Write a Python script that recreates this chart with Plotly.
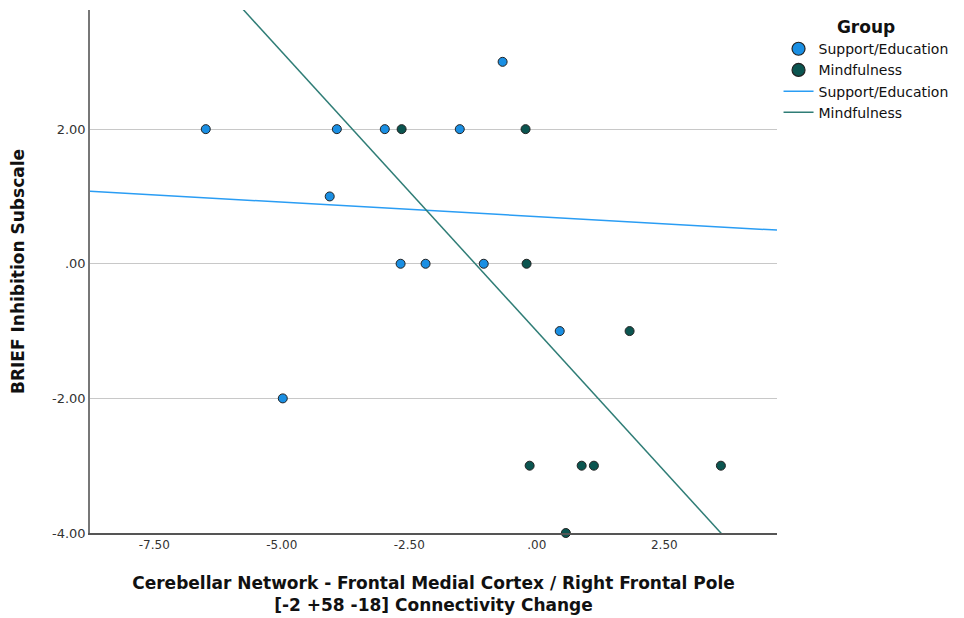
import numpy as np
import plotly.graph_objects as go

# Data
support_x = [-6.49, -3.92, -2.98, -1.51, -0.67, -4.06, -2.67, -2.18, -1.04, 0.45, -4.98]
support_y = [2, 2, 2, 2, 3, 1, 0, 0, 0, -1, -2]
mind_x = [-2.65, -0.22, -0.20, 1.82, -0.14, 0.88, 1.12, 3.61, 0.57]
mind_y = [2, 2, 0, -1, -3, -3, -3, -3, -4]

x_ticks = [-7.5, -5.0, -2.5, 0.0, 2.5]
x_tick_labels = ["-7.50", "-5.00", "-2.50", ".00", "2.50"]
y_ticks = [2, 0, -2, -4]
y_tick_labels = ["2.00", ".00", "-2.00", "-4.00"]

X_RANGE = [-8.76, 4.71]
Y_RANGE = [-4.0, 3.77]

BLUE = "#1A8FE3"
TEAL = "#0B5550"
BLUE_LINE = "#2A9DF4"
TEAL_LINE = "#2F7D76"


def fit_line(xs, ys):
    slope, intercept = np.polyfit(xs, ys, 1)
    lx = np.array(X_RANGE)
    return lx, slope * lx + intercept


fig = go.Figure()

fig.add_trace(go.Scatter(
    x=support_x, y=support_y, mode="markers", name="Support/Education",
    marker=dict(size=9, color=BLUE, line=dict(color="#222222", width=1)),
    cliponaxis=False, showlegend=False,
))
fig.add_trace(go.Scatter(
    x=mind_x, y=mind_y, mode="markers", name="Mindfulness",
    marker=dict(size=9, color=TEAL, line=dict(color="#222222", width=1)),
    cliponaxis=False, showlegend=False,
))

# legend entries with larger symbols
fig.add_trace(go.Scatter(
    x=[None], y=[None], mode="markers", name="Support/Education",
    marker=dict(size=13, color=BLUE, line=dict(color="#222222", width=1.2)),
))
fig.add_trace(go.Scatter(
    x=[None], y=[None], mode="markers", name="Mindfulness",
    marker=dict(size=13, color=TEAL, line=dict(color="#222222", width=1.2)),
))

lx, ly = fit_line(support_x, support_y)
fig.add_trace(go.Scatter(x=lx, y=ly, mode="lines", name="Support/Education",
                         line=dict(color=BLUE_LINE, width=1.5)))
lx, ly = fit_line(mind_x, mind_y)
fig.add_trace(go.Scatter(x=lx, y=ly, mode="lines", name="Mindfulness",
                         line=dict(color=TEAL_LINE, width=1.5)))

font_family = "DejaVu Sans, Liberation Sans, sans-serif"

fig.update_layout(
    width=956, height=610,
    margin=dict(l=82, r=187, t=2, b=85),
    paper_bgcolor="white", plot_bgcolor="white",
    font=dict(family=font_family, size=12, color="#333333"),
    showlegend=True,
    legend=dict(
        title=dict(text="<b>Group</b>", font=dict(size=17, color="#111111"), side="top center"),
        xref="container", yref="container",
        x=0.806, xanchor="left", y=0.995, yanchor="top",
        font=dict(size=14, color="#111111"),
        tracegroupgap=0, itemwidth=30, borderwidth=0,
    ),
    xaxis=dict(
        range=X_RANGE, showgrid=False, zeroline=False, automargin=False,
        tickvals=x_ticks, ticktext=x_tick_labels,
        showline=True, linecolor="#555555", linewidth=1.5,
        ticks="", tickfont=dict(size=12, color="#333333"),
        title=dict(text="<b>Cerebellar Network - Frontal Medial Cortex / Right Frontal Pole<br>[-2 +58 -18] Connectivity Change</b>",
                   font=dict(size=17, color="#111111"), standoff=26),
    ),
    yaxis=dict(
        range=Y_RANGE, showgrid=True, gridcolor="#C8C8C8", gridwidth=1,
        zeroline=False, automargin=False, tickvals=y_ticks, ticktext=y_tick_labels,
        showline=True, linecolor="#777777", linewidth=1.5,
        ticks="", tickfont=dict(size=13, color="#333333"),
        title=dict(text="<b>BRIEF Inhibition Subscale</b>",
                   font=dict(size=17, color="#111111"), standoff=26),
    ),
)

fig.write_html("out.html")
